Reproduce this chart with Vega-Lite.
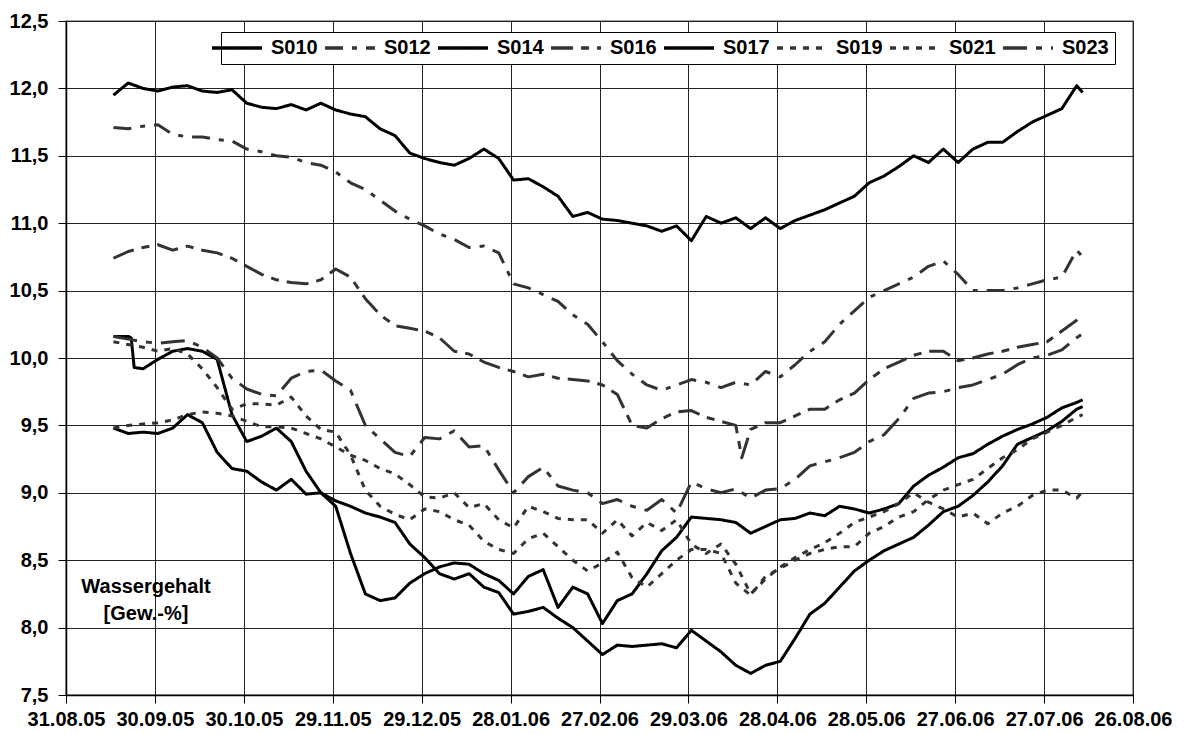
{
  "$schema": "https://vega.github.io/schema/vega-lite/v6.json",
  "width": 1067,
  "height": 674,
  "autosize": {"type": "none"},
  "padding": {"left": 66, "top": 21, "right": 51, "bottom": 39},
  "background": "white",
  "config": {
    "font": "Liberation Sans",
    "view": {"stroke": "#808080", "strokeWidth": 1.5},
    "axis": {
      "labelFont": "Liberation Sans",
      "labelFontWeight": "bold",
      "labelFontSize": 20,
      "labelColor": "black",
      "domainColor": "black",
      "domainWidth": 1.5,
      "tickColor": "black",
      "tickSize": 8,
      "gridColor": "#222222",
      "gridWidth": 1,
      "title": null
    }
  },
  "layer": [
    {
      "data": {
        "values": [
          {"d": "2005-09-16", "S010": 11.95, "S012": 11.71, "S014": 10.16, "S016": 10.74, "S017": 9.48, "S019": 10.12, "S021": 9.48, "S023": 10.16},
          {"d": "2005-09-21", "S010": 12.04, "S012": 11.70, "S014": 10.16, "S016": 10.79, "S017": 9.44, "S019": 10.10, "S021": 9.50, "S023": 10.14},
          {"d": "2005-09-22", "S014": 10.15},
          {"d": "2005-09-23", "S014": 9.93},
          {"d": "2005-09-26", "S010": 12.00, "S012": 11.72, "S014": 9.92, "S016": 10.82, "S017": 9.45, "S019": 10.08, "S021": 9.51, "S023": 10.12},
          {"d": "2005-10-01", "S010": 11.98, "S012": 11.73, "S014": 9.99, "S016": 10.84, "S017": 9.44, "S019": 10.05, "S021": 9.52, "S023": 10.11},
          {"d": "2005-10-06", "S010": 12.01, "S012": 11.66, "S014": 10.05, "S016": 10.80, "S017": 9.48, "S019": 10.07, "S021": 9.54, "S023": 10.12},
          {"d": "2005-10-11", "S010": 12.02, "S012": 11.64, "S014": 10.07, "S016": 10.83, "S017": 9.58, "S019": 10.03, "S021": 9.58, "S023": 10.13},
          {"d": "2005-10-16", "S010": 11.98, "S012": 11.64, "S014": 10.05, "S016": 10.80, "S017": 9.52, "S019": 9.92, "S021": 9.60, "S023": 10.08},
          {"d": "2005-10-21", "S010": 11.97, "S012": 11.62, "S014": 9.99, "S016": 10.78, "S017": 9.30, "S019": 9.78, "S021": 9.59, "S023": 10.00},
          {"d": "2005-10-26", "S010": 11.99, "S012": 11.61, "S014": 9.58, "S016": 10.74, "S017": 9.18, "S019": 9.62, "S021": 9.57, "S023": 9.85},
          {"d": "2005-10-31", "S010": 11.89, "S012": 11.55, "S014": 9.38, "S016": 10.68, "S017": 9.16, "S019": 9.66, "S021": 9.53, "S023": 9.77},
          {"d": "2005-11-05", "S010": 11.86, "S012": 11.53, "S014": 9.42, "S016": 10.62, "S017": 9.08, "S019": 9.66, "S021": 9.49, "S023": 9.73},
          {"d": "2005-11-10", "S010": 11.85, "S012": 11.50, "S014": 9.48, "S016": 10.58, "S017": 9.02, "S019": 9.65, "S021": 9.49, "S023": 9.72},
          {"d": "2005-11-15", "S010": 11.88, "S012": 11.49, "S014": 9.38, "S016": 10.56, "S017": 9.10, "S019": 9.71, "S021": 9.48, "S023": 9.85},
          {"d": "2005-11-20", "S010": 11.84, "S012": 11.45, "S014": 9.16, "S016": 10.55, "S017": 8.99, "S019": 9.57, "S021": 9.44, "S023": 9.90},
          {"d": "2005-11-25", "S010": 11.89, "S012": 11.43, "S014": 9.00, "S016": 10.58, "S017": 9.00, "S019": 9.47, "S021": 9.40, "S023": 9.91},
          {"d": "2005-11-30", "S010": 11.84, "S012": 11.38, "S014": 8.90, "S016": 10.66, "S017": 8.94, "S019": 9.45, "S021": 9.34, "S023": 9.83},
          {"d": "2005-12-05", "S010": 11.81, "S012": 11.30, "S014": 8.55, "S016": 10.60, "S017": 8.90, "S019": 9.28, "S021": 9.28, "S023": 9.76},
          {"d": "2005-12-10", "S010": 11.79, "S012": 11.25, "S014": 8.25, "S016": 10.44, "S017": 8.85, "S019": 9.02, "S021": 9.24, "S023": 9.50},
          {"d": "2005-12-15", "S010": 11.70, "S012": 11.17, "S014": 8.20, "S016": 10.32, "S017": 8.82, "S019": 8.90, "S021": 9.18, "S023": 9.40},
          {"d": "2005-12-20", "S010": 11.65, "S012": 11.09, "S014": 8.22, "S016": 10.24, "S017": 8.78, "S019": 8.84, "S021": 9.14, "S023": 9.30},
          {"d": "2005-12-25", "S010": 11.52, "S012": 11.03, "S014": 8.33, "S016": 10.22, "S017": 8.62, "S019": 8.80, "S021": 9.06, "S023": 9.27},
          {"d": "2005-12-30", "S010": 11.48, "S012": 10.98, "S014": 8.40, "S016": 10.20, "S017": 8.52, "S019": 8.88, "S021": 8.97, "S023": 9.41},
          {"d": "2006-01-04", "S010": 11.45, "S012": 10.92, "S014": 8.45, "S016": 10.15, "S017": 8.40, "S019": 8.86, "S021": 8.96, "S023": 9.40},
          {"d": "2006-01-09", "S010": 11.43, "S012": 10.88, "S014": 8.48, "S016": 10.05, "S017": 8.36, "S019": 8.80, "S021": 9.00, "S023": 9.46},
          {"d": "2006-01-14", "S010": 11.48, "S012": 10.82, "S014": 8.47, "S016": 10.03, "S017": 8.40, "S019": 8.76, "S021": 8.89, "S023": 9.34},
          {"d": "2006-01-19", "S010": 11.55, "S012": 10.83, "S014": 8.40, "S016": 9.97, "S017": 8.30, "S019": 8.64, "S021": 8.92, "S023": 9.35},
          {"d": "2006-01-24", "S010": 11.48, "S012": 10.78, "S014": 8.35, "S016": 9.93, "S017": 8.26, "S019": 8.58, "S021": 8.80, "S023": 9.17},
          {"d": "2006-01-29", "S010": 11.32, "S012": 10.55, "S014": 8.25, "S016": 9.90, "S017": 8.10, "S019": 8.55, "S021": 8.74, "S023": 9.00},
          {"d": "2006-02-03", "S010": 11.33, "S012": 10.52, "S014": 8.38, "S016": 9.86, "S017": 8.12, "S019": 8.66, "S021": 8.90, "S023": 9.12},
          {"d": "2006-02-08", "S010": 11.27, "S012": 10.47, "S014": 8.43, "S016": 9.88, "S017": 8.15, "S019": 8.70, "S021": 8.86, "S023": 9.19},
          {"d": "2006-02-13", "S010": 11.20, "S012": 10.42, "S014": 8.15, "S016": 9.85, "S017": 8.07, "S019": 8.60, "S021": 8.81, "S023": 9.05},
          {"d": "2006-02-18", "S010": 11.05, "S012": 10.32, "S014": 8.30, "S016": 9.84, "S017": 8.00, "S019": 8.50, "S021": 8.80, "S023": 9.02},
          {"d": "2006-02-23", "S010": 11.08, "S012": 10.25, "S014": 8.25, "S016": 9.83, "S017": 7.90, "S019": 8.42, "S021": 8.80, "S023": 9.00},
          {"d": "2006-02-28", "S010": 11.03, "S012": 10.12, "S014": 8.03, "S016": 9.80, "S017": 7.80, "S019": 8.48, "S021": 8.70, "S023": 8.92},
          {"d": "2006-03-05", "S010": 11.02, "S012": 9.98, "S014": 8.20, "S016": 9.73, "S017": 7.87, "S019": 8.56, "S021": 8.80, "S023": 8.95},
          {"d": "2006-03-10", "S010": 11.00, "S012": 9.88, "S014": 8.25, "S016": 9.50, "S017": 7.86, "S019": 8.37, "S021": 8.68, "S023": 8.90},
          {"d": "2006-03-15", "S010": 10.98, "S012": 9.80, "S014": 8.40, "S016": 9.48, "S017": 7.87, "S019": 8.30, "S021": 8.78, "S023": 8.87},
          {"d": "2006-03-20", "S010": 10.94, "S012": 9.76, "S014": 8.57, "S016": 9.55, "S017": 7.88, "S019": 8.40, "S021": 8.72, "S023": 8.95},
          {"d": "2006-03-25", "S010": 10.98, "S012": 9.80, "S014": 8.67, "S016": 9.60, "S017": 7.85, "S019": 8.50, "S021": 8.80, "S023": 8.85},
          {"d": "2006-03-30", "S010": 10.87, "S012": 9.84, "S014": 8.82, "S016": 9.61, "S017": 7.98, "S019": 8.58, "S021": 8.62, "S023": 9.08},
          {"d": "2006-04-04", "S010": 11.05, "S012": 9.82, "S014": 8.81, "S016": 9.56, "S017": 7.90, "S019": 8.58, "S021": 8.55, "S023": 9.03},
          {"d": "2006-04-09", "S010": 11.00, "S012": 9.78, "S014": 8.80, "S016": 9.53, "S017": 7.82, "S019": 8.55, "S021": 8.62, "S023": 9.00},
          {"d": "2006-04-14", "S010": 11.04, "S012": 9.82, "S014": 8.78, "S016": 9.50, "S017": 7.72, "S019": 8.33, "S021": 8.47, "S023": 9.03},
          {"d": "2006-04-16", "S016": 9.26},
          {"d": "2006-04-19", "S010": 10.96, "S012": 9.80, "S014": 8.70, "S016": 9.47, "S017": 7.66, "S019": 8.24, "S021": 8.25, "S023": 8.96},
          {"d": "2006-04-24", "S010": 11.04, "S012": 9.90, "S014": 8.75, "S016": 9.52, "S017": 7.72, "S019": 8.38, "S021": 8.36, "S023": 9.02},
          {"d": "2006-04-29", "S010": 10.96, "S012": 9.86, "S014": 8.80, "S016": 9.52, "S017": 7.75, "S019": 8.44, "S021": 8.45, "S023": 9.03},
          {"d": "2006-05-04", "S010": 11.02, "S012": 9.95, "S014": 8.81, "S016": 9.57, "S017": 7.92, "S019": 8.50, "S021": 8.52, "S023": 9.10},
          {"d": "2006-05-09", "S010": 11.06, "S012": 10.05, "S014": 8.85, "S016": 9.62, "S017": 8.10, "S019": 8.55, "S021": 8.58, "S023": 9.20},
          {"d": "2006-05-14", "S010": 11.10, "S012": 10.12, "S014": 8.83, "S016": 9.62, "S017": 8.18, "S019": 8.58, "S021": 8.63, "S023": 9.23},
          {"d": "2006-05-19", "S010": 11.15, "S012": 10.25, "S014": 8.90, "S016": 9.69, "S017": 8.30, "S019": 8.60, "S021": 8.70, "S023": 9.26},
          {"d": "2006-05-24", "S010": 11.20, "S012": 10.35, "S014": 8.88, "S016": 9.74, "S017": 8.42, "S019": 8.60, "S021": 8.78, "S023": 9.30},
          {"d": "2006-05-29", "S010": 11.30, "S012": 10.45, "S014": 8.85, "S016": 9.84, "S017": 8.50, "S019": 8.70, "S021": 8.82, "S023": 9.38},
          {"d": "2006-06-03", "S010": 11.35, "S012": 10.50, "S014": 8.88, "S016": 9.92, "S017": 8.57, "S019": 8.75, "S021": 8.86, "S023": 9.43},
          {"d": "2006-06-08", "S010": 11.42, "S012": 10.55, "S014": 8.92, "S016": 9.97, "S017": 8.62, "S019": 8.82, "S021": 8.92, "S023": 9.55},
          {"d": "2006-06-13", "S010": 11.50, "S012": 10.60, "S014": 9.05, "S016": 10.02, "S017": 8.67, "S019": 8.86, "S021": 9.00, "S023": 9.70},
          {"d": "2006-06-18", "S010": 11.45, "S012": 10.68, "S014": 9.13, "S016": 10.05, "S017": 8.76, "S019": 8.95, "S021": 8.93, "S023": 9.74},
          {"d": "2006-06-23", "S010": 11.55, "S012": 10.72, "S014": 9.19, "S016": 10.05, "S017": 8.86, "S019": 9.02, "S021": 8.88, "S023": 9.75},
          {"d": "2006-06-28", "S010": 11.45, "S012": 10.62, "S014": 9.26, "S016": 9.98, "S017": 8.90, "S019": 9.06, "S021": 8.82, "S023": 9.78},
          {"d": "2006-07-03", "S010": 11.55, "S012": 10.50, "S014": 9.29, "S016": 10.00, "S017": 8.98, "S019": 9.10, "S021": 8.85, "S023": 9.80},
          {"d": "2006-07-08", "S010": 11.60, "S012": 10.50, "S014": 9.36, "S016": 10.03, "S017": 9.08, "S019": 9.18, "S021": 8.77, "S023": 9.84},
          {"d": "2006-07-13", "S010": 11.60, "S012": 10.50, "S014": 9.42, "S016": 10.05, "S017": 9.20, "S019": 9.26, "S021": 8.85, "S023": 9.88},
          {"d": "2006-07-18", "S010": 11.68, "S012": 10.52, "S014": 9.47, "S016": 10.08, "S017": 9.36, "S019": 9.32, "S021": 8.90, "S023": 9.95},
          {"d": "2006-07-23", "S010": 11.75, "S012": 10.55, "S014": 9.51, "S016": 10.10, "S017": 9.41, "S019": 9.40, "S021": 8.98, "S023": 10.00},
          {"d": "2006-07-28", "S010": 11.80, "S012": 10.58, "S014": 9.56, "S016": 10.12, "S017": 9.46, "S019": 9.45, "S021": 9.02, "S023": 10.02},
          {"d": "2006-08-02", "S010": 11.85, "S012": 10.60, "S014": 9.63, "S016": 10.20, "S017": 9.53, "S019": 9.50, "S021": 9.02, "S023": 10.06},
          {"d": "2006-08-07", "S010": 12.02, "S012": 10.80, "S014": 9.67, "S016": 10.28, "S017": 9.62, "S019": 9.56, "S021": 8.96, "S023": 10.15},
          {"d": "2006-08-09", "S010": 11.97, "S012": 10.75, "S014": 9.69, "S016": 10.32, "S017": 9.64, "S019": 9.58, "S021": 9.01, "S023": 10.18}
        ]
      },
      "transform": [
        {"fold": ["S010", "S012", "S014", "S016", "S017", "S019", "S021", "S023"], "as": ["serie", "wert"]},
        {"filter": "isValid(datum.wert)"}
      ],
      "mark": {"type": "line", "strokeWidth": 3, "strokeJoin": "round", "strokeCap": "butt", "invalid": "filter"},
      "encoding": {
        "x": {
          "field": "d",
          "type": "temporal",
          "scale": {
            "type": "utc",
            "domain": [
              {"year": 2005, "month": 8, "date": 31, "utc": true},
              {"year": 2006, "month": 8, "date": 26, "utc": true}
            ]
          },
          "axis": {
            "values": [
              {"year": 2005, "month": 8, "date": 31, "utc": true},
              {"year": 2005, "month": 9, "date": 30, "utc": true},
              {"year": 2005, "month": 10, "date": 30, "utc": true},
              {"year": 2005, "month": 11, "date": 29, "utc": true},
              {"year": 2005, "month": 12, "date": 29, "utc": true},
              {"year": 2006, "month": 1, "date": 28, "utc": true},
              {"year": 2006, "month": 2, "date": 27, "utc": true},
              {"year": 2006, "month": 3, "date": 29, "utc": true},
              {"year": 2006, "month": 4, "date": 28, "utc": true},
              {"year": 2006, "month": 5, "date": 28, "utc": true},
              {"year": 2006, "month": 6, "date": 27, "utc": true},
              {"year": 2006, "month": 7, "date": 27, "utc": true},
              {"year": 2006, "month": 8, "date": 26, "utc": true}
            ],
            "format": "%d.%m.%y",
            "grid": true,
            "labelAngle": 0,
            "labelPadding": 6,
            "labelOverlap": false,
            "labelFlush": false
          }
        },
        "y": {
          "field": "wert",
          "type": "quantitative",
          "scale": {"domain": [7.5, 12.5], "nice": false, "zero": false},
          "axis": {
            "values": [7.5, 8, 8.5, 9, 9.5, 10, 10.5, 11, 11.5, 12, 12.5],
            "labelExpr": "replace(format(datum.value, '.1f'), '.', ',')",
            "grid": true,
            "labelPadding": 10
          }
        },
        "color": {
          "field": "serie",
          "type": "nominal",
          "scale": {
            "domain": ["S010", "S012", "S014", "S016", "S017", "S019", "S021", "S023"],
            "range": ["#000000", "#333333", "#000000", "#333333", "#000000", "#333333", "#333333", "#333333"]
          },
          "legend": {
            "orient": "none",
            "legendX": 155,
            "legendY": 11,
            "direction": "horizontal",
            "columns": 8,
            "title": null,
            "symbolType": "M-4,0H4",
            "symbolSize": 156,
            "symbolStrokeWidth": 3.5,
            "labelFont": "Liberation Sans",
            "labelFontWeight": "bold",
            "labelFontSize": 20,
            "labelColor": "black",
            "labelOffset": 24,
            "columnPadding": 0,
            "padding": 6,
            "strokeColor": "black",
            "fillColor": "white"
          }
        },
        "strokeDash": {
          "field": "serie",
          "type": "nominal",
          "scale": {
            "domain": ["S010", "S012", "S014", "S016", "S017", "S019", "S021", "S023"],
            "range": [[1, 0], [18, 9, 5, 9], [1, 0], [22, 8, 8, 8], [1, 0], [6, 7], [6, 7], [24, 9, 6, 9]]
          }
        }
      }
    },
    {
      "data": {"values": [{"note": "Wassergehalt"}]},
      "mark": {
        "type": "text",
        "text": ["Wassergehalt", "[Gew.-%]"],
        "font": "Liberation Sans",
        "fontWeight": "bold",
        "fontSize": 20,
        "lineHeight": 27,
        "align": "center",
        "baseline": "middle",
        "color": "black"
      },
      "encoding": {
        "x": {"datum": {"year": 2005, "month": 9, "date": 27, "utc": true}, "type": "temporal"},
        "y": {"datum": 8.3, "type": "quantitative"}
      }
    }
  ]
}
